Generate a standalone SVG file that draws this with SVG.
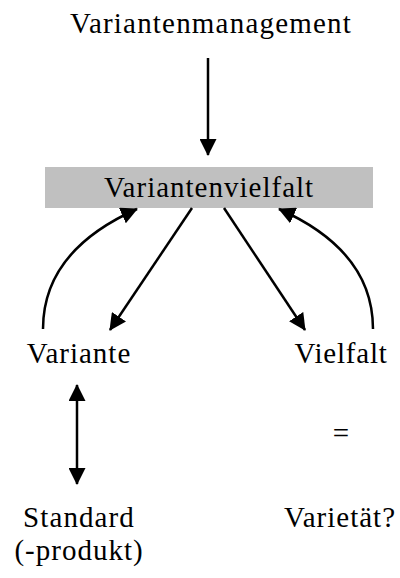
<svg xmlns="http://www.w3.org/2000/svg" width="400" height="578" viewBox="0 0 400 578">
<style>
.c{fill:none;stroke:#000;stroke-width:2.5}
</style>
<defs>
<marker id="ah" markerUnits="userSpaceOnUse" markerWidth="17" markerHeight="17" refX="16" refY="8.5" orient="auto-start-reverse" viewBox="0 0 17 17">
<path d="M0,0 L17,8.5 L0,17 Z" fill="#000"/>
</marker>
</defs>
<rect width="400" height="578" fill="#fff"/>
<g id="n-management"><text x="211" y="33" font-family="Liberation Serif" font-size="29" letter-spacing="1.2" text-anchor="middle">Variantenmanagement</text></g>
<g id="n-vielfalt-box"><rect x="45" y="167" width="328" height="41" fill="#c0c0c0"/><text x="209" y="197" font-family="Liberation Serif" font-size="29" letter-spacing="1" text-anchor="middle">Variantenvielfalt</text></g>
<g id="n-variante"><text x="79" y="363" font-family="Liberation Serif" font-size="29" letter-spacing="1" text-anchor="middle">Variante</text></g>
<g id="n-vielfalt"><text x="341" y="363" font-family="Liberation Serif" font-size="29" letter-spacing="0.8" text-anchor="middle">Vielfalt</text></g>
<g id="n-eq"><text x="341" y="443" font-family="Liberation Serif" font-size="29" text-anchor="middle">=</text></g>
<g id="n-standard"><text x="79" y="527" font-family="Liberation Serif" font-size="29" letter-spacing="1.1" text-anchor="middle">Standard</text><text x="79" y="560" font-family="Liberation Serif" font-size="29" letter-spacing="1" text-anchor="middle">(-produkt)</text></g>
<g id="n-varietaet"><text x="340" y="527" font-family="Liberation Serif" font-size="29" letter-spacing="1" text-anchor="middle">Varietät?</text></g>
<g id="connectors">
<path class="c" d="M208,58 L208,155" marker-end="url(#ah)"/>
<path class="c" d="M43,329 C43,265 90,230 137,209" marker-end="url(#ah)"/>
<path class="c" d="M192,208 L110,330" marker-end="url(#ah)"/>
<path class="c" d="M224,208 L305,330" marker-end="url(#ah)"/>
<path class="c" d="M373,329 C373,265 326,230 279,209" marker-end="url(#ah)"/>
<path class="c" d="M77,385 L77,484" marker-start="url(#ah)" marker-end="url(#ah)"/>
</g>
</svg>
